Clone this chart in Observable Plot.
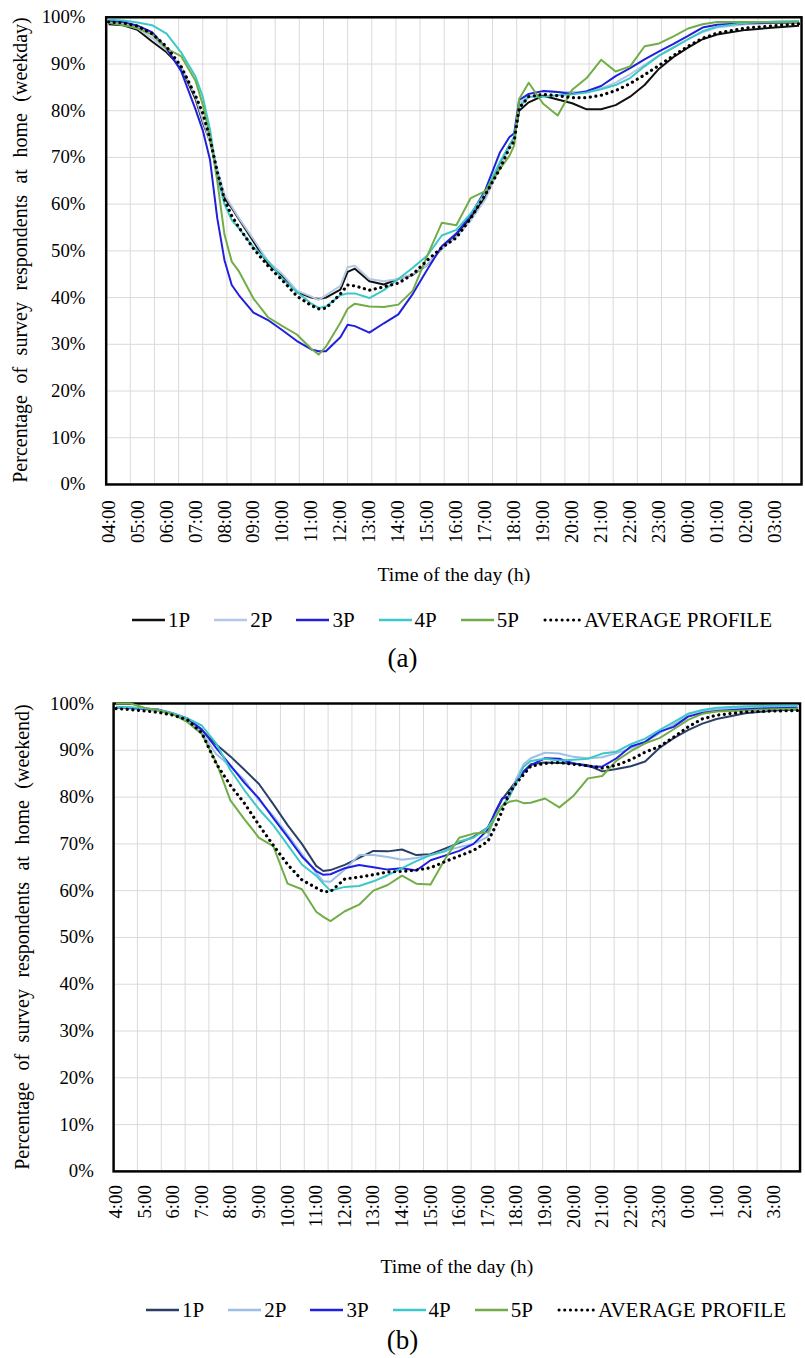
<!DOCTYPE html>
<html><head><meta charset="utf-8">
<script src="https://cdn.jsdelivr.net/npm/d3@7"></script>
<script src="https://cdn.jsdelivr.net/npm/@observablehq/plot@0.6"></script>
<style>
html,body{margin:0;padding:0;background:#fff;overflow:hidden;width:805px;height:1358px;}
#page{position:relative;width:805px;height:1358px;font-family:"Liberation Serif","Times New Roman",serif;color:#000;}
.abs{position:absolute;left:0;}
.legend{display:flex;align-items:center;font-size:21px;white-space:nowrap;height:26px;}
.legend .item{display:flex;align-items:center;margin-right:24px;}
.legend svg{margin-right:3px;}
.cap{font-size:27px;width:805px;text-align:center;line-height:30px;}
.ytitle{position:absolute;width:520px;height:24px;line-height:24px;font-size:20px;text-align:center;white-space:nowrap;word-spacing:6.5px;transform:rotate(-90deg);transform-origin:center center;}
</style></head><body><div id="page"></div>
<script>
// ---------- DATA ----------
// times: hours after 04:00
const TA = [0,0.5,1,1.5,2,2.5,3,3.25,3.5,3.75,4,4.25,4.5,5,5.5,6,6.5,7,7.25,7.5,8,8.25,8.5,9,9.5,10,10.5,11,11.5,12,12.5,13,13.5,13.83,14,14.17,14.5,15,15.5,16,16.5,17,17.5,18,18.5,19,19.5,20,20.5,21,22,23,23.83];
const A_1P = [98.5,98.3,97.3,94.8,92.5,89.3,82.5,77.5,73.5,67,61.3,59.2,56.8,52,47.2,44.6,41.2,40,39.7,40,41.7,45.5,46.2,43.5,42.8,44,44.9,47,50.5,53.3,57,61.5,68.5,72.5,74.2,80,81.8,83.2,82.4,81.6,80.3,80.3,81.2,83,85.5,89,91.5,93.5,95.3,96.3,97.3,97.8,98.2];
const A_2P = [99,98.6,97.6,95.6,93,89.5,83,78,73.5,67.5,62,59.5,57,52.5,47.8,45,41.5,40.2,39.5,40.5,42.5,46.5,46.8,44,43.5,44,45,47,50.5,53,56.5,61,68,72,74,81.5,83.5,84.3,84,84,84,84.8,86,87.8,89.8,91.8,93.6,95.3,96.8,97.8,98.5,98.8,99];
const A_3P = [99.3,99,98.2,96.8,93.3,88.5,80.3,75.8,69.5,57,48,42.7,40.5,36.8,35.2,33,30.7,28.9,28.5,28.5,31.5,34.2,33.9,32.5,34.5,36.4,40.8,46,51,53.7,57.7,63,71,74.3,75.2,82.3,83.6,84.2,84,83.6,84.2,85.3,87.4,89.1,91,92.7,94.3,96,97.8,98.4,98.7,98.8,98.9];
const A_4P = [99.5,99.3,98.9,98.3,96.5,92.5,87.3,83,76,66,60,56.6,54.8,50.8,47.8,44,41.2,38.7,37.8,38.1,40.5,40.9,40.9,39.9,41.6,44,46.4,49,53.3,54.5,58,62.5,69,72.5,74.5,80.8,83,83,83.3,83.5,83.9,84.6,85.5,87,89.5,91.8,93.5,95.3,97,98,98.8,99.1,99.2];
const A_5P = [98.8,98.3,97.7,96.3,93.3,91.7,86.4,81.3,74.5,65,53.5,47.7,45.6,39.8,35.8,33.9,32.1,29,27.8,29.5,34.6,37.6,38.7,38.1,38,38.5,41.5,49,56,55.5,61.3,62.8,67.5,70.3,72.6,82.5,86,81.5,79,84.5,87,90.9,88.4,89.5,93.8,94.4,95.9,97.6,98.5,99,99,98.9,99];
const A_AVG = [99,98.8,98.1,96.5,93.7,89.5,83.2,79.5,74,67,61,57.5,55,50.5,46.8,43.7,40.3,38.3,37.6,37.7,40.8,42.7,42.5,41.6,42.3,43.1,45,48,50.7,52.8,57,62,67.5,72,73.5,80.6,83,83.5,83.2,82.8,82.8,83.3,84.3,85.8,87.7,89.7,91.8,93.8,95.5,96.6,97.7,98.2,98.6];

const TB = [0,0.5,1,1.5,2,2.5,3,3.5,4,4.5,5,5.5,6,6.5,7,7.25,7.5,8,8.5,9,9.5,10,10.5,11,11.5,12,12.5,13,13.25,13.5,13.75,14,14.25,14.5,15,15.5,16,16.5,17,17.5,18,18.5,19,19.5,20,20.5,21,22,23,23.83];
const B_1P = [99.2,99,98.8,98.4,97.8,96.5,94.3,91.3,88.7,85.8,82.8,78.5,74,70,65.3,64.2,64.4,65.5,67,68.5,68.4,68.8,67.6,67.8,69,70.2,71.5,73.5,76.5,79.5,81.5,83.5,85.5,87,87.4,87.3,87.2,86.8,85.5,86,86.6,87.6,90.5,92.6,94.3,95.7,96.7,97.9,98.5,98.7];
const B_2P = [99.2,99,98.8,98.4,97.7,96.3,93.8,89.2,86.6,83.6,79.3,76,72,67.8,63.8,62,61.9,64.5,67.6,67.6,67.2,66.6,67,67.6,68.5,69.3,70,71.5,76,78,80,84,87,88.3,89.5,89.3,88.6,88.3,88.5,89.4,90.4,91.8,93.6,95.5,97.3,98.3,98.8,99.1,99.3,99.4];
const B_3P = [99.2,99.1,98.9,98.7,97.9,96.8,94.5,90.5,86.8,83,79.7,75.5,71.5,67.3,64.2,63.4,63.5,64.8,65.5,65,64.5,64.8,64.3,66.5,67.5,68.5,70,73,76.7,79.7,80.2,83.3,85.3,86.8,88.3,88.2,87.2,86.6,86.5,88.3,90.8,91.8,94,95,97.2,98,98.4,98.8,99,99.1];
const B_4P = [99.3,99.2,99,98.6,97.9,96.8,95.3,91.5,85.8,81.4,77.4,74,69.8,65.6,63.2,61.5,60,60.8,61,62,63.3,64.8,66.3,67.6,68.4,70.5,71.3,73.5,75.7,78,80.2,83,86.5,87.7,88.2,87.8,88,88.2,89.3,89.7,91.3,92.5,94.3,96,97.8,98.6,99.1,99.4,99.5,99.6];
const B_5P = [100,100,99.1,98.5,97.7,96,93.5,87.5,79.3,75.2,71.3,69.5,61.5,60.3,55.5,54.4,53.5,55.6,57,60,61.2,63.2,61.5,61.3,66.7,71.3,72.2,72.5,75.5,78.2,79,79.3,78.7,78.8,79.7,77.8,80.3,84,84.5,87.8,89.8,91.5,92.6,94.5,96.5,97.8,98.3,98.5,98.8,98.9];
const B_AVG = [98.9,98.7,98.4,98.1,97.5,96.5,93.7,87.2,82.5,78.6,74,69.7,65.6,62.3,60.6,59.8,59.8,62.5,62.9,63.4,64,64.1,64.4,64.9,66.2,67.4,68.6,70.5,73.5,77,80.8,83,84.8,86.6,87.2,87.4,87,86.7,86.2,86.8,88,89.6,90.8,92.8,95,96.7,97.5,98.2,98.4,98.5];

const HOURS_A = ["04:00","05:00","06:00","07:00","08:00","09:00","10:00","11:00","12:00","13:00","14:00","15:00","16:00","17:00","18:00","19:00","20:00","21:00","22:00","23:00","00:00","01:00","02:00","03:00"];
const HOURS_B = ["4:00","5:00","6:00","7:00","8:00","9:00","10:00","11:00","12:00","13:00","14:00","15:00","16:00","17:00","18:00","19:00","20:00","21:00","22:00","23:00","0:00","1:00","2:00","3:00"];
const Y_TICKS = [0,10,20,30,40,50,60,70,80,90,100];
const SERIES = ["1P","2P","3P","4P","5P","AVERAGE PROFILE"];
const COLORS_A = ["#111111","#b4c7e7","#1f1fdc","#3cc8c8","#70ad47","#000000"];
const COLORS_B = ["#2b3f66","#9dbfe6","#1f1fe6","#3cc8c8","#70ad47","#000000"];

// ---------- DRAW ----------
const page = document.getElementById("page");
const W = 815, H = 600;

function makePanel(o) {
  const marks = [];
  const gridT = d3.range(1, 29).map(k => k * 5 / 6 - 1 / 12); // every 5 ten-minute categories
  marks.push(Plot.ruleY(Y_TICKS, {stroke: "#d9d9d9", strokeWidth: 1}));
  marks.push(Plot.ruleX(gridT, {stroke: "#d9d9d9", strokeWidth: 1}));
  marks.push(Plot.axisY(Y_TICKS, {tickFormat: d => d + "%", tickSize: 0, tickPadding: o.yPad, fontSize: 19, label: null}));
  marks.push(Plot.axisX(d3.range(24), {tickFormat: i => o.hours[i], tickRotate: -90, tickSize: 0, tickPadding: o.xPad, fontSize: 19, label: null}));
  marks.push(Plot.text([o.xTitle], {text: d => d, frameAnchor: "bottom", lineAnchor: "middle", textAnchor: "middle", dy: o.xTitleDy, fontSize: 20}));
  marks.push(Plot.frame({stroke: "#000", strokeWidth: 2.5}));
  o.values.forEach((vals, s) => {
    const data = vals.map((v, i) => ({t: o.times[i], v}));
    const isAvg = s === 5;
    marks.push(Plot.line(data, {
      x: "t", y: "v", stroke: o.colors[s],
      strokeWidth: isAvg ? 3.2 : 2,
      strokeDasharray: isAvg ? "0.1 5.6" : null,
      strokeLinecap: isAvg ? "round" : "butt",
      strokeLinejoin: "round"
    }));
  });
  return Plot.plot({
    width: W, height: H,
    marginLeft: o.left, marginRight: W - o.right, marginTop: o.top, marginBottom: H - o.bottom,
    style: {fontFamily: "'Liberation Serif', 'Times New Roman', serif", fontSize: "19px", color: "#000", background: "transparent", overflow: "visible"},
    x: {domain: [-1 / 12, 24 - 1 / 12], axis: null},
    y: {domain: [0, 100], axis: null},
    marks
  });
}

function yTitle(text, cx, cy) {
  const d = document.createElement("div");
  d.className = "ytitle";
  d.style.left = (cx - 260) + "px";
  d.style.top = (cy - 12) + "px";
  d.textContent = text;
  page.appendChild(d);
}

function legend(colors, leftPx, topPx) {
  const div = document.createElement("div");
  div.className = "abs legend";
  div.style.top = topPx + "px";
  div.style.left = leftPx + "px";
  SERIES.forEach((name, i) => {
    const it = document.createElement("div");
    it.className = "item";
    const isAvg = i === 5;
    const w = isAvg ? 38 : 33;
    it.innerHTML = `<svg width="${w}" height="10"><line x1="${isAvg ? 2 : 0}" x2="${w}" y1="5" y2="5" stroke="${colors[i]}" stroke-width="${isAvg ? 3 : 2.5}" ${isAvg ? 'stroke-dasharray="0.1 5.6" stroke-linecap="round"' : ''}/></svg><span>${name}</span>`;
    div.appendChild(it);
  });
  page.appendChild(div);
}

function caption(text, centerY) {
  const d = document.createElement("div");
  d.className = "abs cap";
  d.style.top = (centerY - 15) + "px";
  d.textContent = text;
  page.appendChild(d);
}

// Panel (a)
const pa = makePanel({
  times: TA, values: [A_1P, A_2P, A_3P, A_4P, A_5P, A_AVG], colors: COLORS_A, hours: HOURS_A,
  left: 107, right: 811, top: 17, bottom: 490, yPad: 21, xPad: 16,
  xTitle: "Time of the day (h)", xTitleDy: 91
});
const wa = document.createElement("div"); wa.className = "abs"; wa.style.top = "0px"; wa.appendChild(pa); page.appendChild(wa);
yTitle("Percentage of survey respondents at home (weekday)", 20, 250);
legend(COLORS_A, 132, 607);
caption("(a)", 658);

// Panel (b)
const pb = makePanel({
  times: TB, values: [B_1P, B_2P, B_3P, B_4P, B_5P, B_AVG], colors: COLORS_B, hours: HOURS_B,
  left: 114.5, right: 809.5, top: 23.3, bottom: 497, yPad: 20, xPad: 14,
  xTitle: "Time of the day (h)", xTitleDy: 96
});
const wb = document.createElement("div"); wb.className = "abs"; wb.style.top = "680px"; wb.appendChild(pb); page.appendChild(wb);
yTitle("Percentage of survey respondents at home (weekend)", 22, 937);
legend(COLORS_B, 146, 1297);
caption("(b)", 1340);
</script></body></html>
